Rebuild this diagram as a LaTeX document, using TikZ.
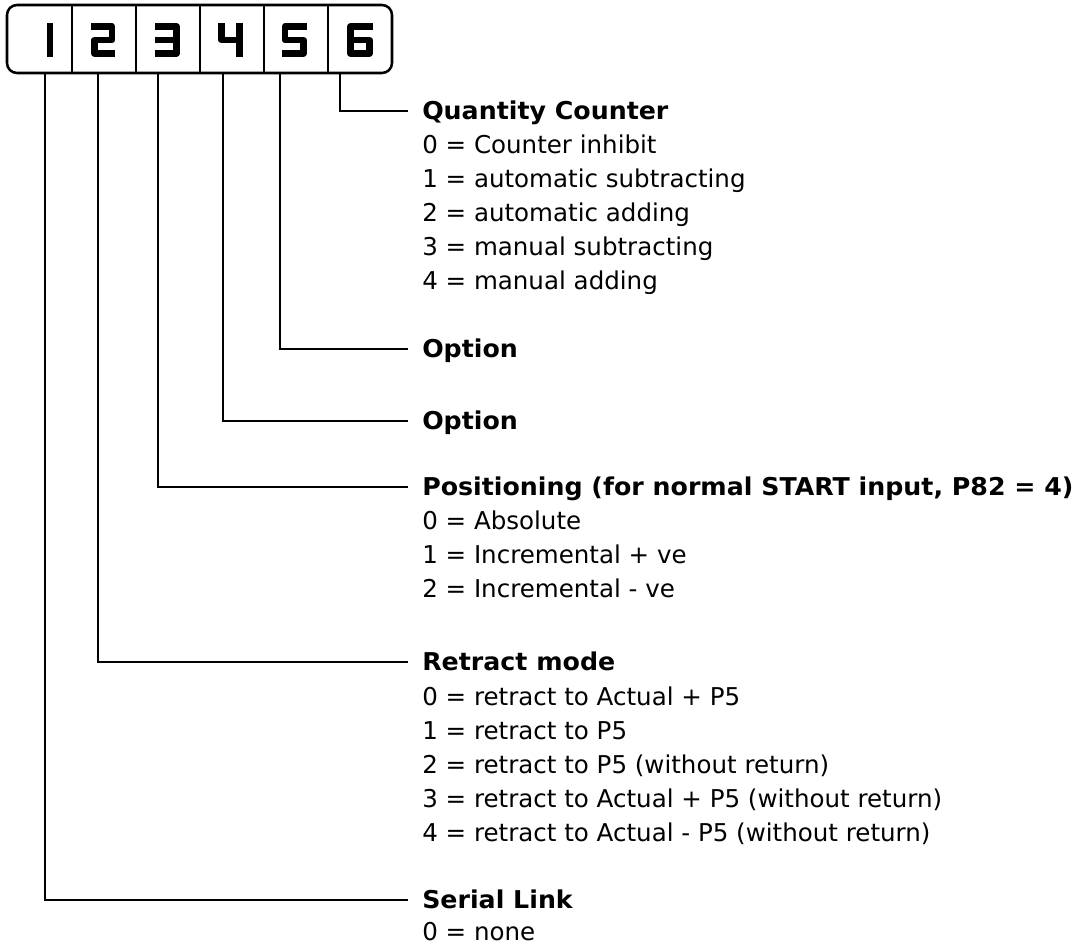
\documentclass[tikz,border=0pt]{standalone}
\usepackage{fontspec}
\setmainfont{DejaVu Sans}[BoldFeatures={FakeStretch=1.03}]
\usetikzlibrary{positioning}
\tikzset{
  frame/.style={line width=1.9pt, rounded corners=7.5pt},
  divider/.style={line width=1.1pt},
  seg/.style={line width=4.9pt, line cap=rect, line join=round},
  leader/.style={line width=1.7pt},
  head/.style={anchor=west, font=\fontsize{18.4pt}{25.5pt}\selectfont\bfseries, inner xsep=10.5pt, inner ysep=0pt, text height=13.4pt, text depth=0pt},
  items/.style={anchor=base west, align=left, inner sep=0pt, font=\fontsize{18.4pt}{25.5pt}\selectfont}
}
\begin{document}
\begin{tikzpicture}[x=0.75pt, y=-0.75pt]
    \useasboundingbox (0,0) rectangle (1083,948);
    % display
    \draw[frame] (7,5) rectangle (392,73);
    \draw[divider] (72,5) -- (72,73);
    \draw[divider] (136,5) -- (136,73);
    \draw[divider] (200,5) -- (200,73);
    \draw[divider] (264,5) -- (264,73);
    \draw[divider] (328,5) -- (328,73);
    \draw[seg] (50,26.5) -- (50,53.5);
    \draw[seg] (94.5,26.5) -- (112,26.5) -- (112,40) -- (94.5,40) -- (94.5,53.5) -- (112,53.5);
    \draw[seg] (158.5,26.5) -- (176.5,26.5) -- (176.5,53.5) -- (158.5,53.5);
    \draw[seg] (158.5,40) -- (176.5,40);
    \draw[seg] (221.5,26.5) -- (221.5,40) -- (239.5,40);
    \draw[seg] (239.5,26.5) -- (239.5,53.5);
    \draw[seg] (303.5,26.5) -- (285,26.5) -- (285,40) -- (303.5,40) -- (303.5,53.5) -- (285,53.5);
    \draw[seg] (369.5,26.5) -- (350.5,26.5) -- (350.5,53.5) -- (369.5,53.5) -- (369.5,40) -- (350.5,40);
    \coordinate (l1) at (45,73);
    \coordinate (l2) at (98,73);
    \coordinate (l3) at (158,73);
    \coordinate (l4) at (223,73);
    \coordinate (l5) at (280,73);
    \coordinate (l6) at (340,73);
    % headings
    \node[head] (qty) at (408,111) {Quantity Counter};
    \node[head] (opt5) at (408,349) {Option};
    \node[head] (opt4) at (408,421) {Option};
    \node[head] (pos) at (408,487) {Positioning (for normal START input, P82 = 4)};
    \node[head] (retr) at (408,662) {Retract mode};
    \node[head] (ser) at (408,900) {Serial Link};
    % values (placed at the baseline of their last line)
    \node[items] (qtyv) at (422,290) {0 = Counter inhibit\\1 = automatic subtracting\\2 = automatic adding\\3 = manual subtracting\\4 = manual adding};
    \node[items] (posv) at (422,598) {0 = Absolute\\1 = Incremental + ve\\2 = Incremental - ve};
    \node[items] (retrv) at (422,841) {0 = retract to Actual + P5\\1 = retract to P5\\2 = retract to P5 (without return)\\3 = retract to Actual + P5 (without return)\\4 = retract to Actual - P5 (without return)};
    \node[items] (serv) at (422,940) {0 = none};
    % leaders
    \draw[leader] (l6) |- (qty.west);
    \draw[leader] (l5) |- (opt5.west);
    \draw[leader] (l4) |- (opt4.west);
    \draw[leader] (l3) |- (pos.west);
    \draw[leader] (l2) |- (retr.west);
    \draw[leader] (l1) |- (ser.west);
\end{tikzpicture}
\end{document}
